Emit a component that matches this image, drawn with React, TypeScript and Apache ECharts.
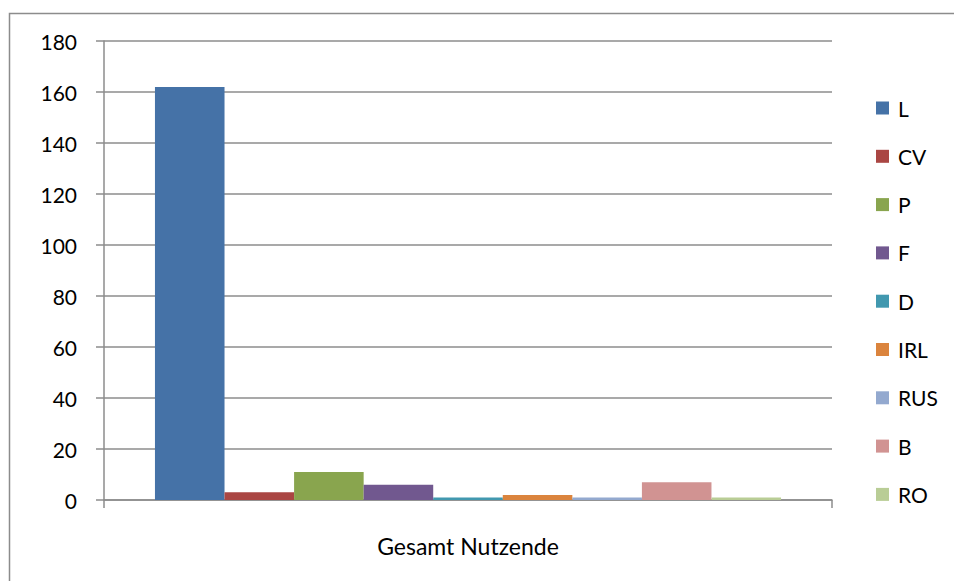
import React, { useEffect, useRef } from "react";
import * as echarts from "echarts";

const categories = ["Gesamt Nutzende"];
const seriesNames = ["L", "CV", "P", "F", "D", "IRL", "RUS", "B", "RO"];
const seriesValues = [162, 3, 11, 6, 1, 2, 1, 7, 1];
const seriesColors = ["#4572A7", "#AA4643", "#89A54E", "#71588F", "#4198AF", "#DB843D", "#93A9CF", "#D19392", "#B9CD96"];
const yTicks = [0, 20, 40, 60, 80, 100, 120, 140, 160, 180];

const FONT = "Lato";

export default function App() {
  const ref = useRef<HTMLDivElement>(null);
  useEffect(() => {
    if (!ref.current) return;
    const chart = echarts.init(ref.current, undefined, { renderer: "svg" });
    chart.setOption({
      animation: false,
      backgroundColor: "#ffffff",
      textStyle: { fontFamily: FONT },
      grid: { left: 104, right: 122, top: 41, bottom: 81, containLabel: false },
      graphic: [
        {
          type: "rect",
          shape: { x: 9.5, y: 13.5, width: 1000, height: 700 },
          style: { fill: "none", stroke: "#8c8c8c", lineWidth: 1.5 },
          z: -10,
        },
      ],
      legend: {
        orient: "vertical",
        left: 871,
        top: 92,
        itemWidth: 13,
        itemHeight: 13,
        itemGap: 26.3,
        icon: "rect",
        textStyle: { fontFamily: FONT, fontSize: 21, color: "#000", lineHeight: 22, padding: [0, 0, 0, 4] },
        data: seriesNames,
      },
      xAxis: {
        type: "category",
        data: categories,
        axisLine: { show: true, lineStyle: { color: "#8c8c8c", width: 1.5 } },
        axisTick: { show: true, length: 8, lineStyle: { color: "#8c8c8c", width: 1.5 } },
        axisLabel: { fontFamily: FONT, fontSize: 23, color: "#000", margin: 34 },
      },
      yAxis: {
        type: "value",
        min: yTicks[0],
        max: yTicks[yTicks.length - 1],
        interval: 20,
        axisLine: { show: true, lineStyle: { color: "#8c8c8c", width: 1.5 } },
        axisTick: { show: true, inside: false, length: 8, lineStyle: { color: "#8c8c8c", width: 1.5 } },
        axisLabel: { fontFamily: FONT, fontSize: 21, color: "#000", margin: 27 },
        splitLine: { show: true, lineStyle: { color: "#8c8c8c", width: 1.5 } },
      },
      series: seriesNames.map((name, i) => ({
        name,
        type: "bar",
        data: [seriesValues[i]],
        itemStyle: { color: seriesColors[i] },
        barGap: "0%",
        barCategoryGap: "14%",
      })),
    });
    return () => chart.dispose();
  }, []);
  return (
    <div
      ref={ref}
      style={{ position: "absolute", left: 0, top: 0, width: 954, height: 581 }}
    />
  );
}
